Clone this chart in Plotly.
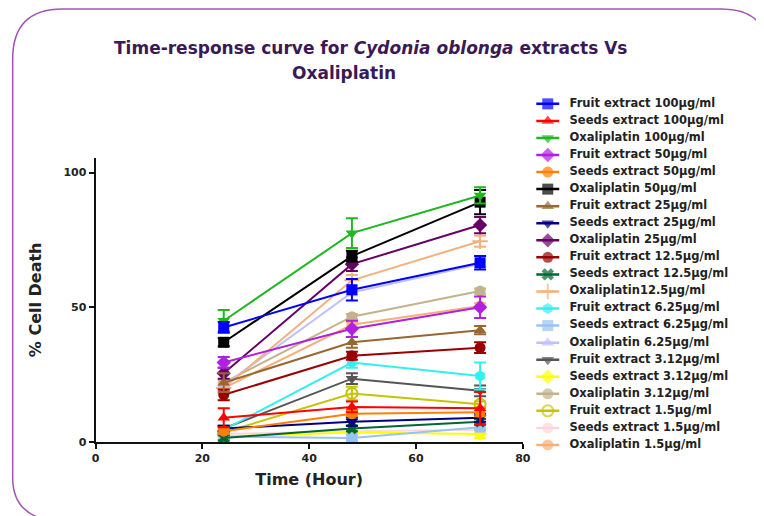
import plotly.graph_objects as go

W, H = 764, 516

times = [24, 48, 72]

labels = [
    "Fruit extract 100μg/ml", "Seeds extract 100μg/ml", "Oxaliplatin 100μg/ml",
    "Fruit extract 50μg/ml", "Seeds extract 50μg/ml", "Oxaliplatin 50μg/ml",
    "Fruit extract 25μg/ml", "Seeds extract 25μg/ml", "Oxaliplatin 25μg/ml",
    "Fruit extract 12.5μg/ml", "Seeds extract 12.5μg/ml", "Oxaliplatin12.5μg/ml",
    "Fruit extract 6.25μg/ml", "Seeds extract 6.25μg/ml", "Oxaliplatin 6.25μg/ml",
    "Fruit extract 3.12μg/ml", "Seeds extract 3.12μg/ml", "Oxaliplatin 3.12μg/ml",
    "Fruit extract 1.5μg/ml", "Seeds extract 1.5μg/ml", "Oxaliplatin 1.5μg/ml",
]

values = [
    [42.5, 56.5, 66.5],   # Fruit 100
    [9.0, 13.0, 12.5],    # Seeds 100
    [45.0, 77.5, 91.5],   # Oxali 100
    [29.5, 42.0, 50.0],   # Fruit 50
    [4.0, 10.5, 11.0],    # Seeds 50
    [37.0, 69.0, 89.0],   # Oxali 50
    [22.0, 37.0, 41.5],   # Fruit 25
    [5.0, 7.5, 9.0],      # Seeds 25
    [25.5, 66.0, 80.5],   # Oxali 25
    [17.5, 32.0, 35.0],   # Fruit 12.5
    [1.5, 5.0, 7.5],      # Seeds 12.5
    [20.0, 60.0, 74.5],   # Oxali 12.5
    [4.5, 29.5, 24.5],    # Fruit 6.25
    [2.0, 1.5, 5.5],      # Seeds 6.25
    [21.0, 55.5, 66.0],   # Oxali 6.25
    [5.0, 23.5, 19.0],    # Fruit 3.12
    [2.0, 3.5, 3.0],      # Seeds 3.12
    [22.0, 46.5, 56.0],   # Oxali 3.12
    [3.5, 18.0, 14.0],    # Fruit 1.5
    [3.0, 4.0, 4.5],      # Seeds 1.5
    [20.0, 43.5, 50.5],   # Oxali 1.5
]

errors = [
    [2.0, 4.0, 2.5], [3.5, 2.0, 6.0], [4.0, 5.5, 3.0],
    [2.0, 3.0, 4.0], [1.0, 1.0, 1.5], [1.5, 2.0, 4.5],
    [3.5, 2.0, 1.5], [1.0, 1.5, 1.5], [2.0, 2.5, 3.0],
    [2.0, 1.5, 2.0], [1.0, 1.0, 1.0], [2.0, 2.0, 2.0],
    [1.5, 2.0, 5.0], [1.0, 1.0, 1.0], [1.0, 1.0, 1.0],
    [1.0, 2.0, 2.0], [0.5, 0.5, 1.5], [1.0, 1.0, 1.0],
    [1.0, 2.5, 1.0], [0.5, 0.5, 0.5], [1.0, 1.0, 1.0],
]

colors = [
    "#0000ff", "#ff0000", "#1fb81f",
    "#b020e0", "#ff8000", "#000000",
    "#996633", "#000080", "#660066",
    "#990000", "#006633", "#f2b27f",
    "#33f0f0", "#99c2f5", "#c0c0ff",
    "#555555", "#ffff00", "#c2b48a",
    "#c4c400", "#ffd6dc", "#f5b07a",
]

symbols = [
    "square", "triangle-up", "triangle-down",
    "diamond", "circle", "square",
    "triangle-up", "triangle-down", "diamond",
    "circle", "x", "cross-thin-open",
    "hexagon", "square", "triangle-up",
    "triangle-down", "diamond", "circle",
    "circle-open", "circle", "circle-cross",
]

# page-position correction (measured): screen = 0.986*fig + offset
SX, OX = 0.986, 11.3
SY, OY = 0.989, 6.9

def fxp(x):
    return (x - OX) / SX

def fyp(y):
    return (y - OY) / SY

def px(x):
    return fxp(x) / W

def py(y):
    return 1 - fyp(y) / H

fig = go.Figure()

for i in reversed(range(len(labels))):
    sym = symbols[i]
    msize = 11
    mline = dict(width=0)
    if sym in ("cross-thin-open", "circle-open"):
        mline = dict(width=2, color=colors[i])
    if sym == "x":
        msize = 10
    fig.add_trace(go.Scatter(
        x=times, y=values[i], mode="lines+markers", name=labels[i],
        line=dict(color=colors[i], width=2),
        marker=dict(symbol=sym, size=msize, color=colors[i], line=mline),
        error_y=dict(type="data", array=errors[i], visible=True,
                     color=colors[i], thickness=2, width=6),
        cliponaxis=False, showlegend=False,
        xaxis="x", yaxis="y",
    ))

# custom legend on a helper axis (one row per series index)
row_top, row_step = 103, 17.1
rows = list(range(len(labels)))
for i in rows:
    sym = symbols[i]
    mline = dict(width=0)
    if sym in ("cross-thin-open", "circle-open"):
        mline = dict(width=2, color=colors[i])
    fig.add_trace(go.Scatter(
        x=[-1, 0, 1], y=[i, i, i], mode="lines+markers",
        line=dict(color=colors[i], width=2.5),
        marker=dict(symbol=sym, size=[0, 11, 0], color=colors[i], line=mline),
        showlegend=False, hoverinfo="skip", cliponaxis=False,
        xaxis="x2", yaxis="y2",
    ))
fig.add_trace(go.Scatter(
    x=[1.9] * len(labels), y=rows, text=labels, mode="text",
    textposition="middle right",
    textfont=dict(family="DejaVu Sans", size=11.5, color="#222222", weight="bold"),
    showlegend=False, hoverinfo="skip", cliponaxis=False,
    xaxis="x2", yaxis="y2",
))

axis_font = dict(family="DejaVu Sans", size=11, color="#222222", weight="bold")
title_font = dict(family="DejaVu Sans", size=16, color="#222222", weight="bold")
head_font = dict(family="DejaVu Sans", size=17, color="#3a1a55", weight="bold")

frame_path = (
    f"M {px(12)},{py(478)} L {px(12)},{py(58)} "
    f"Q {px(12)},{py(8)} {px(62)},{py(8)} "
    f"L {px(722)},{py(8)} Q {px(770)},{py(8)} {px(770)},{py(56)} "
    f"M {px(12)},{py(478)} Q {px(12)},{py(516)} {px(54)},{py(522)}"
)

unit_x = 11.5 / SX
leg_x0 = fxp(530)
leg_x1 = W
leg_y_top, leg_y_bot = 90, 460

fig.update_layout(
    width=W, height=H,
    margin=dict(l=0, r=0, t=0, b=0),
    paper_bgcolor="white", plot_bgcolor="white",
    showlegend=False,
    xaxis=dict(
        domain=[px(95), px(523)], range=[0, 80], dtick=20,
        showline=True, linecolor="#111111", linewidth=2,
        ticks="outside", ticklen=5, tickwidth=2, tickcolor="#111111",
        showgrid=False, zeroline=False, tickfont=axis_font,
        title=dict(text="Time (Hour)", font=title_font, standoff=10),
        anchor="y",
    ),
    yaxis=dict(
        domain=[py(442), py(157)], range=[0, 105.5], tickvals=[0, 50, 100],
        showline=True, linecolor="#111111", linewidth=2,
        ticks="outside", ticklen=5, tickwidth=2, tickcolor="#111111",
        showgrid=False, zeroline=False, tickfont=axis_font,
        title=dict(text="% Cell Death", font=title_font, standoff=18),
        anchor="x",
    ),
    xaxis2=dict(
        domain=[leg_x0 / W, 1.0],
        range=[-(fxp(548) - leg_x0) / unit_x,
               -(fxp(548) - leg_x0) / unit_x + (leg_x1 - leg_x0) / unit_x],
        visible=False, anchor="y2",
    ),
    yaxis2=dict(
        domain=[py(leg_y_bot), py(leg_y_top)],
        range=[(leg_y_bot - row_top) / row_step, (leg_y_top - row_top) / row_step],
        visible=False, anchor="x2",
    ),
    shapes=[dict(type="path", path=frame_path, xref="paper", yref="paper",
                 line=dict(color="#a055b5", width=1.5))],
    annotations=[
        dict(text="Time-response curve for <i>Cydonia oblonga</i> extracts Vs",
             x=px(371), y=py(47), xref="paper", yref="paper",
             xanchor="center", yanchor="middle", showarrow=False, font=head_font),
        dict(text="Oxaliplatin",
             x=px(344), y=py(72), xref="paper", yref="paper",
             xanchor="center", yanchor="middle", showarrow=False, font=head_font),
    ],
)

fig.write_html("out.html")
